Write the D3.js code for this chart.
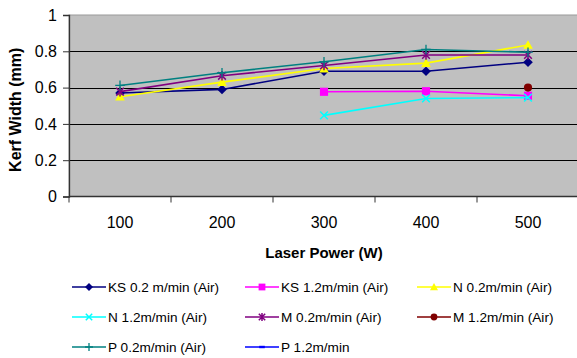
<!DOCTYPE html>
<html>
<head>
<meta charset="utf-8">
<script src="https://cdn.jsdelivr.net/npm/d3@7/dist/d3.min.js"></script>
<style>
  html, body { margin: 0; padding: 0; background: #fff; }
  svg { display: block; font-family: "Liberation Sans", Arial, sans-serif; }
</style>
</head>
<body>
<svg id="chart" width="577" height="358"></svg>
<script>
// Laser power settings (W)
const categories = ["100", "200", "300", "400", "500"];
const yTicks = [0, 0.2, 0.4, 0.6, 0.8, 1];

// Kerf width (mm) per series, null where no cut was measured
const ks02 = [0.57, 0.59, 0.69, 0.69, 0.74];
const ks12 = [null, null, 0.577, 0.58, 0.555];
const n02  = [0.55, 0.63, 0.705, 0.735, 0.835];
const n12  = [null, null, 0.447, 0.54, 0.545];
const m02  = [0.578, 0.665, 0.722, 0.78, 0.78];
const m12  = [null, null, null, null, 0.60];
const p02  = [0.612, 0.682, 0.742, 0.81, 0.795];
const p12  = [null, null, null, null, null];

const seriesNames = [
  "KS 0.2 m/min (Air)", "KS 1.2m/min (Air)", "N 0.2m/min (Air)",
  "N 1.2m/min (Air)", "M 0.2m/min (Air)", "M 1.2m/min (Air)",
  "P 0.2m/min (Air)", "P 1.2m/min"
];
const seriesValues = [ks02, ks12, n02, n12, m02, m12, p02, p12];
const seriesColors = ["#000080", "#ff00ff", "#ffff00", "#00ffff", "#800080", "#800000", "#008080", "#0000ff"];
const seriesMarkers = ["diamond", "square", "triangle", "cross", "star", "circle", "plus", "dash"];

const series = seriesNames.map((name, i) => ({
  name, values: seriesValues[i], color: seriesColors[i], marker: seriesMarkers[i]
}));

const svg = d3.select("#chart");
const plot = { left: 69, right: 579, top: 15, bottom: 196.5 };

const x = d3.scaleBand().domain(categories).range([plot.left, plot.right]).padding(0);
const y = d3.scaleLinear().domain([0, 1]).range([plot.bottom, plot.top]);

// plot area
svg.append("rect")
  .attr("x", plot.left).attr("y", plot.top)
  .attr("width", plot.right - plot.left).attr("height", plot.bottom - plot.top)
  .attr("fill", "#c0c0c0").attr("stroke", "#9a9a9a").attr("stroke-width", 1);

// horizontal gridlines
svg.append("g").selectAll("line")
  .data(yTicks.filter(t => t > 0 && t < 1))
  .join("line")
  .attr("x1", plot.left).attr("x2", plot.right)
  .attr("y1", d => Math.round(y(d)) + 0.5).attr("y2", d => Math.round(y(d)) + 0.5)
  .attr("stroke", "#000").attr("stroke-width", 1.2);

// y axis
const yAxis = svg.append("g")
  .attr("transform", `translate(${plot.left},0)`)
  .call(d3.axisLeft(y).tickValues(yTicks).tickSize(6).tickPadding(6).tickFormat(d3.format("~g")));
yAxis.select(".domain").attr("stroke", "#333").attr("stroke-width", 1.3);
yAxis.selectAll(".tick line").attr("stroke", "#333");
yAxis.selectAll("text").attr("font-size", 16).attr("fill", "#000")
  .attr("font-family", "'Liberation Sans', Arial, sans-serif");

// x axis: ticks on category boundaries
const xAxisG = svg.append("g").attr("transform", `translate(0,${plot.bottom})`);
xAxisG.append("line")
  .attr("x1", plot.left).attr("x2", plot.right)
  .attr("stroke", "#333").attr("stroke-width", 1.3);
const boundaries = categories.map(c => x(c)).concat([x(categories[categories.length - 1]) + x.bandwidth()]);
xAxisG.selectAll("line.tk").data(boundaries).join("line").attr("class", "tk")
  .attr("x1", d => d).attr("x2", d => d).attr("y1", 0).attr("y2", 6)
  .attr("stroke", "#333");
xAxisG.selectAll("text").data(categories).join("text")
  .attr("x", d => x(d) + x.bandwidth() / 2).attr("y", 31)
  .attr("text-anchor", "middle").attr("font-size", 16).attr("fill", "#000")
  .text(d => d);

// axis titles
svg.append("text")
  .attr("transform", `translate(21,${(plot.top + plot.bottom) / 2 + 4}) rotate(-90)`)
  .attr("text-anchor", "middle").attr("font-size", 16).attr("font-weight", "bold")
  .text("Kerf Width (mm)");
svg.append("text")
  .attr("x", 324).attr("y", 258)
  .attr("text-anchor", "middle").attr("font-size", 15).attr("font-weight", "bold")
  .text("Laser Power (W)");

// marker shapes
function drawMarker(g, type, color, size) {
  const s = size;
  switch (type) {
    case "diamond":
      g.append("path").attr("d", `M0,${-s}L${s},0L0,${s}L${-s},0Z`).attr("fill", color);
      break;
    case "square":
      g.append("rect").attr("x", -s * 0.85).attr("y", -s * 0.85).attr("width", s * 1.7).attr("height", s * 1.7).attr("fill", color);
      break;
    case "triangle":
      g.append("path").attr("d", `M0,${-s}L${s},${s * 0.8}L${-s},${s * 0.8}Z`).attr("fill", color);
      break;
    case "cross":
      g.append("path").attr("d", `M${-s * 0.8},${-s * 0.8}L${s * 0.8},${s * 0.8}M${-s * 0.8},${s * 0.8}L${s * 0.8},${-s * 0.8}`)
        .attr("stroke", color).attr("stroke-width", 1.5).attr("fill", "none");
      break;
    case "star":
      g.append("path").attr("d", `M${-s * 0.8},${-s * 0.8}L${s * 0.8},${s * 0.8}M${-s * 0.8},${s * 0.8}L${s * 0.8},${-s * 0.8}M0,${-s}L0,${s}`)
        .attr("stroke", color).attr("stroke-width", 1.5).attr("fill", "none");
      break;
    case "circle":
      g.append("circle").attr("r", s * 0.85).attr("fill", color);
      break;
    case "plus":
      g.append("path").attr("d", `M${-s},0L${s},0M0,${-s}L0,${s}`)
        .attr("stroke", color).attr("stroke-width", 1.3).attr("fill", "none");
      break;
    case "dash":
      g.append("rect").attr("x", -s * 0.7).attr("y", -1.2).attr("width", s * 1.4).attr("height", 2.4).attr("fill", color);
      break;
  }
}

// series lines and markers
const line = d3.line()
  .defined(d => d.v != null)
  .x(d => x(d.c) + x.bandwidth() / 2)
  .y(d => y(d.v));

series.forEach(s => {
  const pts = categories.map((c, i) => ({ c, v: s.values[i] }));
  const g = svg.append("g");
  g.append("path").datum(pts).attr("d", line)
    .attr("fill", "none").attr("stroke", s.color).attr("stroke-width", 1.6);
  pts.filter(p => p.v != null).forEach(p => {
    const mg = g.append("g").attr("transform", `translate(${x(p.c) + x.bandwidth() / 2},${y(p.v)})`);
    drawMarker(mg, s.marker, s.color, 4.8);
  });
});

// legend
const legendCols = [72, 245, 417];
const legendRows = [287, 317, 347];
series.forEach((s, i) => {
  const cx = legendCols[i % 3], cy = legendRows[Math.floor(i / 3)];
  const g = svg.append("g").attr("transform", `translate(${cx},${cy})`);
  g.append("line").attr("x1", 0).attr("x2", 34).attr("y1", 0).attr("y2", 0)
    .attr("stroke", s.color).attr("stroke-width", 1.6);
  const mg = g.append("g").attr("transform", "translate(17,0)");
  drawMarker(mg, s.marker, s.color, 4);
  g.append("text").attr("x", 36).attr("y", 0).attr("dy", "0.36em")
    .attr("font-size", 13.6).attr("fill", "#000").text(s.name);
});
</script>
</body>
</html>
